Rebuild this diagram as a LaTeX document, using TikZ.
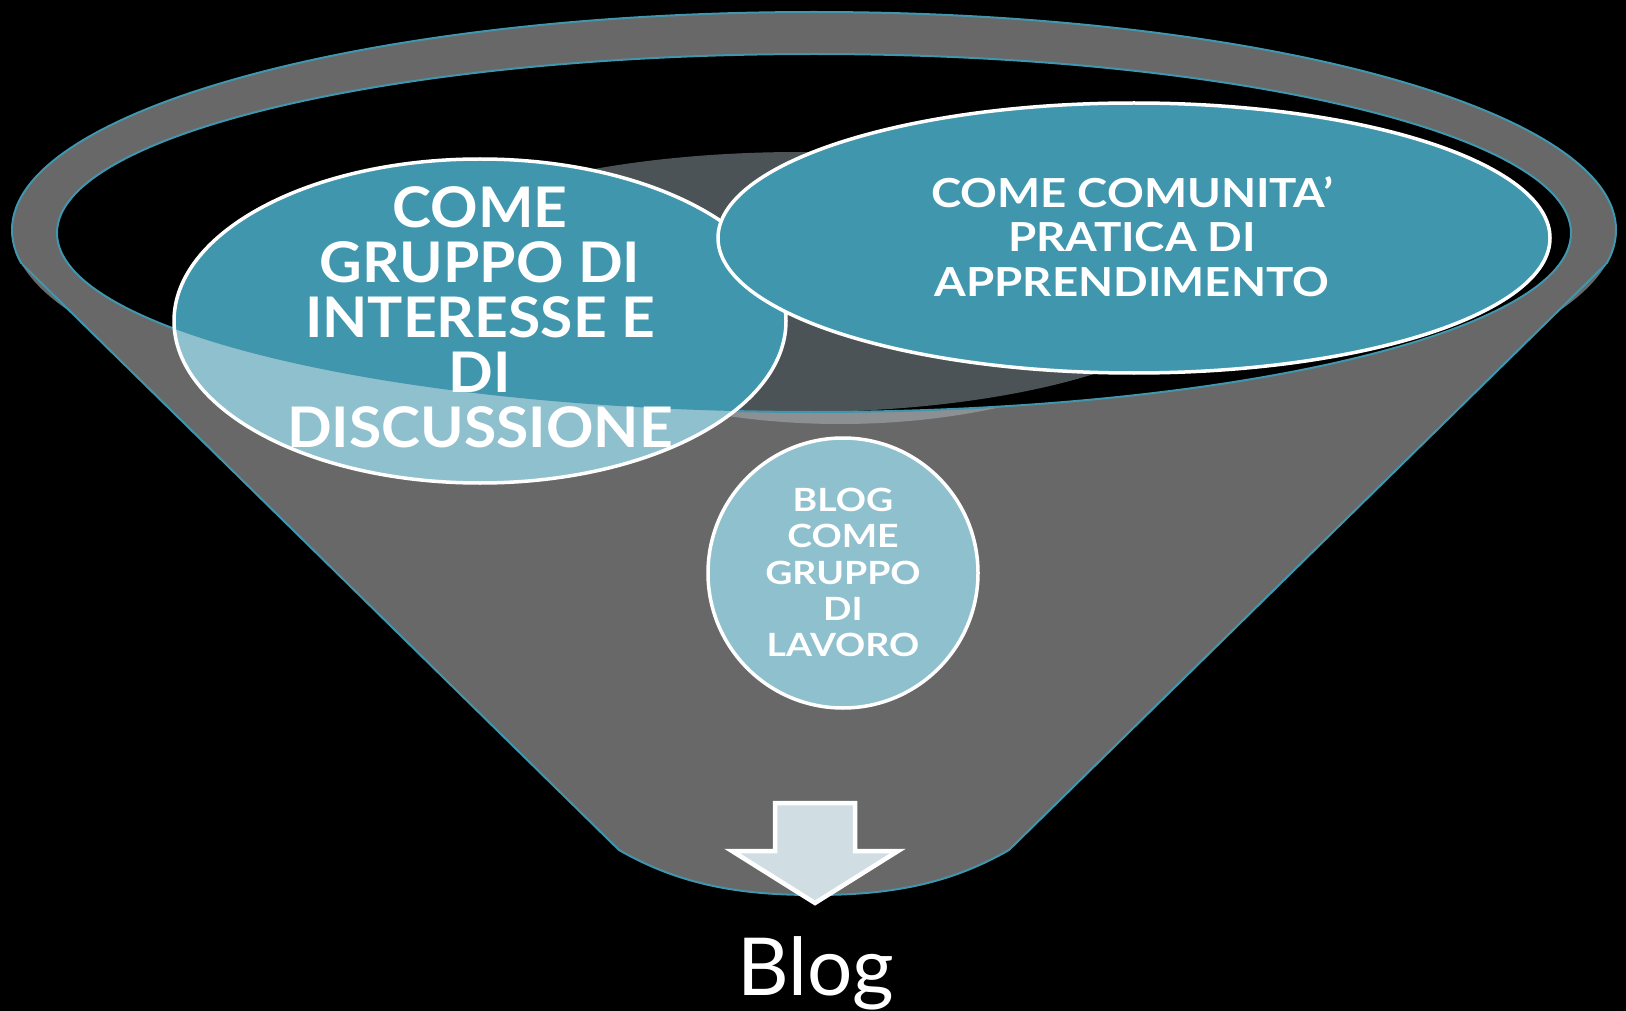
\documentclass[tikz,border=0pt]{standalone}
\usepackage{fontspec}
\setmainfont{Lato}
\definecolor{tealc}{RGB}{63,150,173}
\definecolor{ltealc}{RGB}{143,192,206}
\definecolor{funnelgray}{RGB}{104,104,104}
\definecolor{innergray}{RGB}{75,83,86}
\definecolor{bandgray}{RGB}{140,144,146}
\definecolor{arrowfill}{RGB}{208,222,228}
\tikzset{
  tealline/.style={draw=tealc, line width=2pt},
  bubble/.style={draw=white, line width=3.5pt},
  bigtext/.style={text=white, align=center, inner sep=0pt, font=\bfseries\fontsize{56}{55}\selectfont\addfontfeatures{FakeStretch=1.05}},
  midtext/.style={text=white, align=center, inner sep=0pt, font=\bfseries\fontsize{40}{44.6}\selectfont\addfontfeatures{FakeStretch=1.14}},
  smalltext/.style={text=white, align=center, inner sep=0pt, font=\bfseries\fontsize{32}{36.3}\selectfont\addfontfeatures{FakeStretch=1.17}},
  labeltext/.style={text=white, inner sep=0pt, font=\fontsize{80}{90}\selectfont}
}
\begin{document}
\begin{tikzpicture}[x=1pt,y=-1pt]
\useasboundingbox (0,0) rectangle (1626,1011);
\fill[black] (0,0) rectangle (1626,1011);
% funnel body
\fill[funnelgray] (22,264) -- (619,850) .. controls (680,885) and (740,895) .. (814,895)
   .. controls (888,895) and (948,885) .. (1009,850) -- (1606,264) -- cycle;
\fill[funnelgray] (814,230) ellipse [x radius=802, y radius=218];
% light reflection band under the rim
\fill[bandgray] (840,243) ellipse [x radius=380, y radius=181];
% opening
\fill[black] (814,233) ellipse [x radius=757, y radius=179];
\begin{scope}
  \clip (814,233) ellipse [x radius=757, y radius=179];
  \fill[innergray] (800,282) ellipse [x radius=416, y radius=130];
\end{scope}
% outlines
\draw[tealline] (22,264) -- (619,850) .. controls (680,885) and (740,895) .. (814,895)
   .. controls (888,895) and (948,885) .. (1009,850) -- (1606,264);
\begin{scope}
  \clip (-10,-10) rectangle (1640,264);
  \draw[tealline] (814,230) ellipse [x radius=802, y radius=218];
\end{scope}
\draw[tealline] (814,233) ellipse [x radius=757, y radius=179];
% left ellipse
\fill[ltealc] (480,321) ellipse [x radius=306, y radius=162];
\begin{scope}
  \clip (814,233) ellipse [x radius=757, y radius=179];
  \fill[tealc] (480,321) ellipse [x radius=306, y radius=162];
\end{scope}
\draw[bubble] (480,321) ellipse [x radius=306, y radius=162];
% right ellipse
\filldraw[fill=tealc, bubble] (1134,238) ellipse [x radius=416, y radius=135];
% bottom circle
\filldraw[fill=ltealc, bubble] (843,573) circle [radius=135];
% arrow
\filldraw[fill=arrowfill, draw=white, line width=4.5pt, line join=miter]
  (775,803) -- (855,803) -- (855,851) -- (898,851) -- (815,903) -- (732,851) -- (775,851) -- cycle;
% texts
\node[bigtext] (lefttext) at (480,317.5) {COME\\GRUPPO DI\\INTERESSE E\\DI\\DISCUSSIONE};
\node[midtext] (righttext) at (1132,236.5) {COME COMUNITA’\\PRATICA DI\\APPRENDIMENTO};
\node[smalltext] (bottomtext) at (843,572.5) {BLOG\\COME\\GRUPPO\\DI\\LAVORO};
\node[labeltext, anchor=base] (blog) at (816,995) {Blog};
\end{tikzpicture}
\end{document}
